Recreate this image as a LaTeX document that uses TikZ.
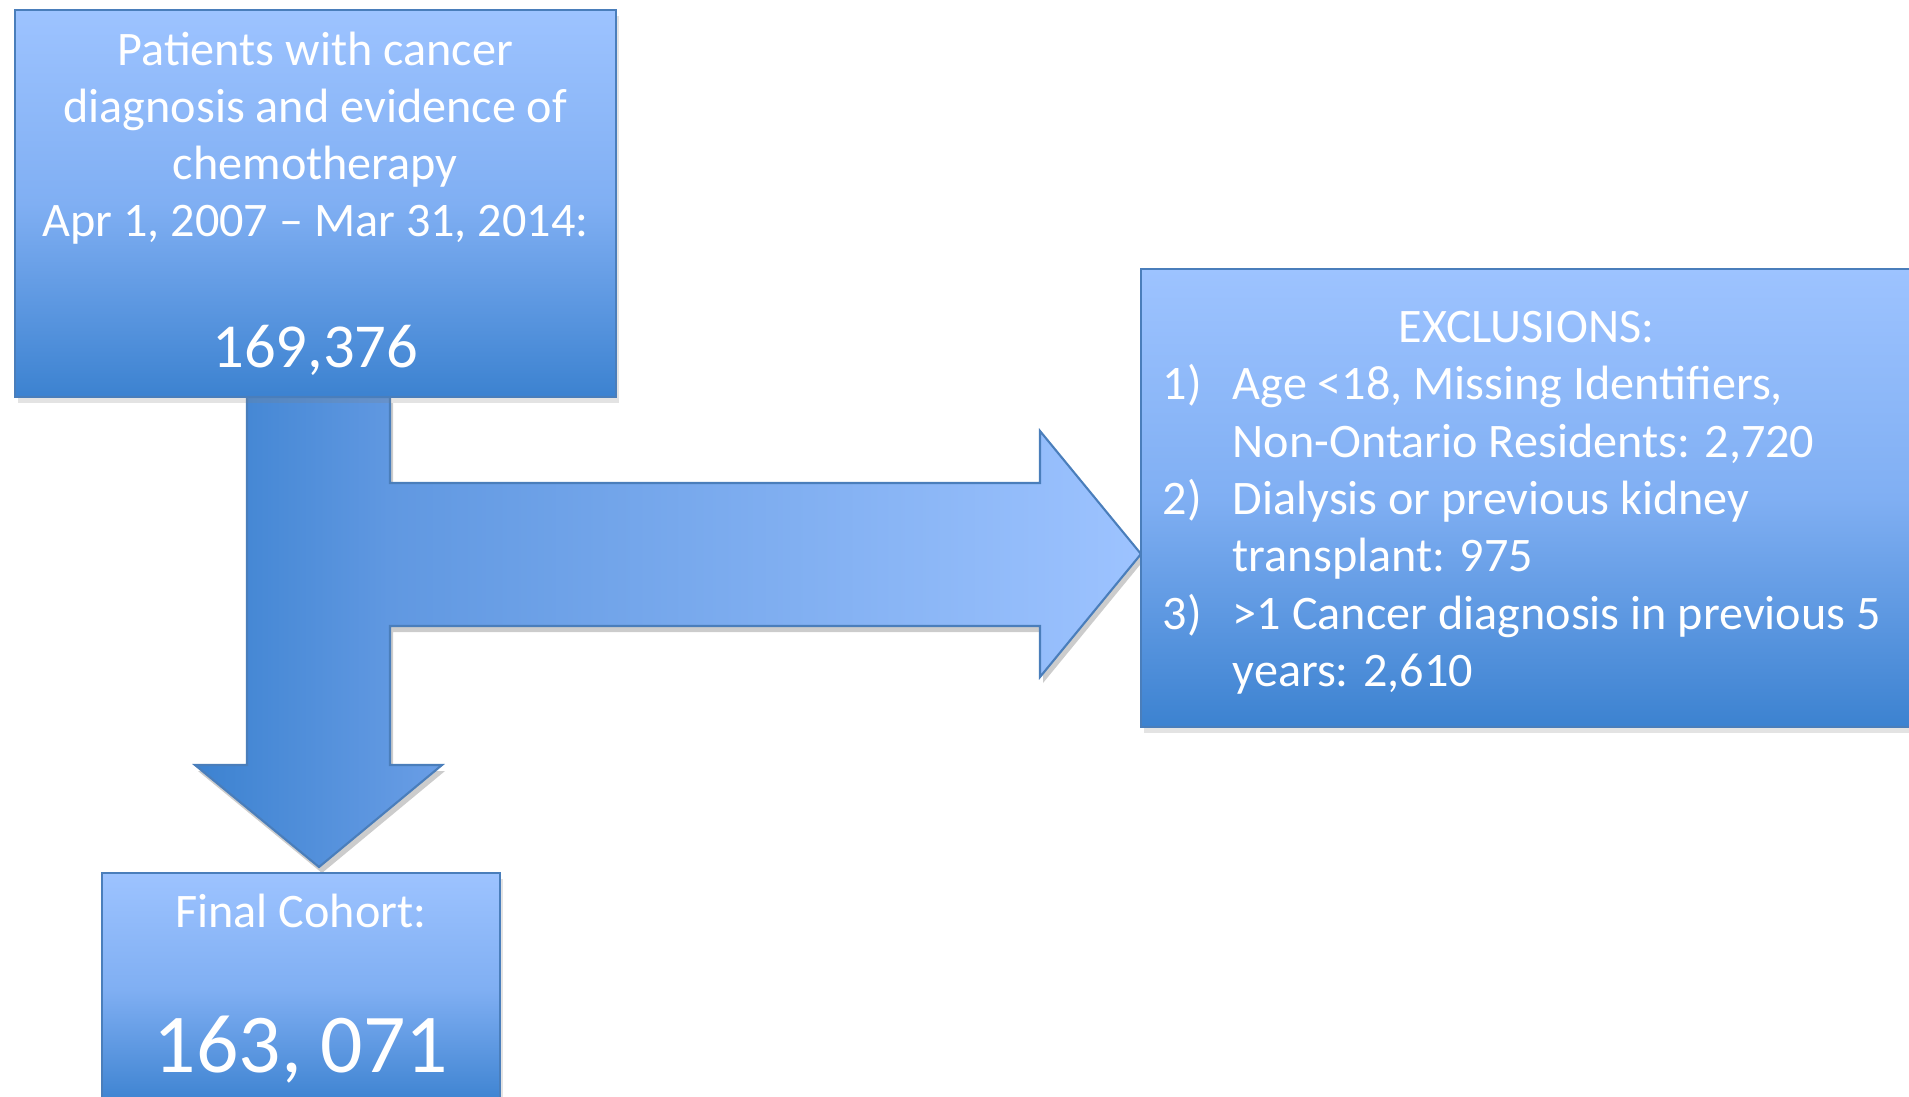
\documentclass[tikz,border=0pt]{standalone}
\usepackage{fontspec}
\setmainfont{Carlito}
\usetikzlibrary{positioning,calc,shadows}
\definecolor{cohortLight}{RGB}{157,195,255}
\definecolor{cohortMid}{RGB}{128,175,243}
\definecolor{cohortDark}{RGB}{60,130,208}
\definecolor{cohortSide}{RGB}{106,158,230}
\definecolor{cohortJoin}{RGB}{96,152,225}
\definecolor{cohortEdge}{RGB}{74,126,187}
\pgfdeclareverticalshading{boxShade}{100bp}{color(0bp)=(cohortDark); color(25bp)=(cohortDark); color(50bp)=(cohortMid); color(75bp)=(cohortLight); color(100bp)=(cohortLight)}
\pgfdeclarehorizontalshading{downShade}{100bp}{color(0bp)=(cohortDark); color(25bp)=(cohortDark); color(75bp)=(cohortSide); color(100bp)=(cohortSide)}
\pgfdeclarehorizontalshading{rightShade}{100bp}{color(0bp)=(cohortJoin); color(25bp)=(cohortJoin); color(75bp)=(cohortLight); color(100bp)=(cohortLight)}
\tikzset{
  flowbox/.style={
    rectangle,
    draw=cohortEdge,
    line width=0.6pt,
    shade,
    shading=boxShade,
    text=white,
    align=center,
    inner sep=0pt,
    font=\fontsize{13.7}{16.2}\selectfont,
    drop shadow={opacity=0.22,shadow xshift=0.03cm,shadow yshift=-0.06cm}
  },
  arrowfill/.style={
    shade,
    draw=none
  },
  arrowline/.style={
    draw=cohortEdge,
    line width=0.6pt,
    join=miter
  }
}

\begin{document}
\begin{tikzpicture}[x=0.01cm,y=-0.01cm]
  \useasboundingbox (0,0) rectangle (1909,1097);
  % block arrows: down to the final cohort, right to the exclusions
  \path[fill=black,opacity=0.2,xshift=0.03cm,yshift=-0.06cm]
    (247,397) -- (390,397) -- (390,483) -- (1040,483) -- (1040,431) -- (1141,554)
    -- (1040,677) -- (1040,626) -- (390,626) -- (390,765) -- (442,765) -- (319,867)
    -- (195,765) -- (247,765) -- cycle;
  \path[arrowfill,shading=downShade]
    (247,397) -- (390,397) -- (390,765) -- (442,765) -- (319,867) -- (195,765) -- (247,765) -- cycle;
  \path[arrowfill,shading=rightShade]
    (389,483) -- (1040,483) -- (1040,431) -- (1141,554) -- (1040,677) -- (1040,626) -- (389,626) -- cycle;
  \draw[arrowline]
    (247,397) -- (390,397) -- (390,483) -- (1040,483) -- (1040,431) -- (1141,554)
    -- (1040,677) -- (1040,626) -- (390,626) -- (390,765) -- (442,765) -- (319,867)
    -- (195,765) -- (247,765) -- cycle;

  \node[flowbox,minimum width=6.01cm,minimum height=3.87cm] (cohort) at (315.3,203.5)
    {Patients with cancer\\diagnosis and evidence of\\chemotherapy\\Apr 1, 2007 – Mar 31, 2014:\\[21pt]{\fontsize{17.8}{21}\selectfont 169,376}};
  \node[flowbox,minimum width=3.98cm,minimum height=2.32cm] (final) at (301,989)
    {Final Cohort:\\[25pt]{\fontsize{23.8}{28}\selectfont 163, 071}};
  \node[flowbox,minimum width=7.71cm,minimum height=4.58cm,font=\fontsize{13.7}{16.3}\selectfont] (excl) at (1526.5,498)
    {\begin{tabular}{@{}p{0.7cm}@{}p{6.57cm}@{}}
      \multicolumn{2}{@{}c@{}}{\rule{0pt}{14.2pt}EXCLUSIONS:}\\
      1) & Age <18, Missing Identifiers,\newline Non-Ontario Residents: 2,720\\
      2) & Dialysis or previous kidney\newline transplant: 975\\
      3) & >1 Cancer diagnosis in previous 5\newline years: 2,610
    \end{tabular}};
\end{tikzpicture}
\end{document}
